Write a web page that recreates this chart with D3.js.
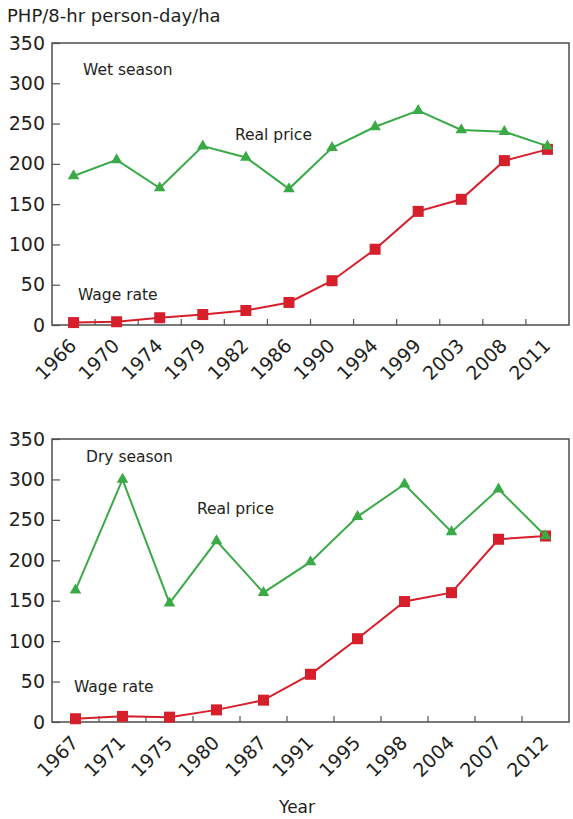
<!DOCTYPE html>
<html>
<head>
<meta charset="utf-8">
<script src="https://cdn.jsdelivr.net/npm/d3@7"></script>
<style>
  body { margin: 0; background: #fff; }
  svg { display: block; font-family: "DejaVu Sans", sans-serif; }
</style>
</head>
<body>
<div id="chart"></div>
<script>
// wet season (top panel)
const wetYears = ["1966", "1970", "1974", "1979", "1982", "1986", "1990", "1994", "1999", "2003", "2008", "2011"];
const wetPrice = [185, 205, 170, 222, 208, 169, 220, 246, 266, 242, 240, 222];
const wetWage = [3, 4, 9, 13, 18, 28, 55, 94, 141, 156, 204, 218];

// dry season (bottom panel)
const dryYears = ["1967", "1971", "1975", "1980", "1987", "1991", "1995", "1998", "2004", "2007", "2012"];
const dryPrice = [163, 300, 147, 224, 160, 198, 254, 294, 235, 288, 230];
const dryWage = [4, 7, 6, 15, 27, 59, 103, 149, 160, 226, 230];

const yTicks = [0, 50, 100, 150, 200, 250, 300, 350];

const width = 573, height = 819;
const green = "#3aaa47", red = "#d61f2b";

const svg = d3.select("#chart")
    .append("svg")
    .attr("width", width)
    .attr("height", height);

svg.append("text")
    .attr("x", 7)
    .attr("y", 22)
    .attr("font-size", 18)
    .attr("fill", "#231f20")
    .text("PHP/8-hr person-day/ha");

function panel(top, bottom, years, price, wage, labels) {
    const left = 52, right = 569;

    let x = d3.scaleBand()
        .domain(years)
        .range([left, right]);

    let y = d3.scaleLinear()
        .domain([0, 350])
        .range([bottom, top]);

    let g = svg.append("g");

    // y axis, ticks pointing inward
    let ya = g.append("g")
        .attr("transform", `translate(${left},0)`)
        .call(d3.axisLeft(y).tickValues(yTicks).tickSize(-8).tickPadding(7).tickSizeOuter(0));
    ya.select(".domain").remove();
    ya.selectAll("line").attr("stroke", "#555").attr("stroke-width", 1.2);
    ya.selectAll("text").attr("font-size", 19).attr("fill", "#231f20").attr("font-family", "DejaVu Sans");

    // x axis labels
    let xa = g.append("g")
        .attr("transform", `translate(0,${bottom})`)
        .call(d3.axisBottom(x).tickSize(0).tickSizeOuter(0));
    xa.select(".domain").remove();
    xa.selectAll("text")
        .attr("font-size", 19)
        .attr("font-family", "DejaVu Sans")
        .attr("fill", "#231f20")
        .attr("text-anchor", "end")
        .attr("x", 0).attr("y", 0).attr("dy", 0)
        .attr("transform", "translate(4,22) rotate(-45)");

    // inner ticks at band boundaries
    g.selectAll(".xtick")
        .data(years.slice(1))
        .join("line")
        .attr("x1", d => x(d)).attr("x2", d => x(d))
        .attr("y1", bottom).attr("y2", bottom - 6)
        .attr("stroke", "#555")
        .attr("stroke-width", 1.2);

    // frame
    g.append("rect")
        .attr("x", left).attr("y", top)
        .attr("width", right - left).attr("height", bottom - top)
        .attr("fill", "none")
        .attr("stroke", "#4d4d4d")
        .attr("stroke-width", 1.5);

    let cx = d => x(d) + x.bandwidth() / 2;

    let line = d3.line()
        .x(d => cx(d[0]))
        .y(d => y(d[1]));

    let wagePts = years.map((d, i) => [d, wage[i]]);
    let pricePts = years.map((d, i) => [d, price[i]]);

    g.append("path")
        .datum(wagePts)
        .attr("d", line)
        .attr("fill", "none")
        .attr("stroke", red)
        .attr("stroke-width", 2);

    g.selectAll(".sq")
        .data(wagePts)
        .join("rect")
        .attr("x", d => cx(d[0]) - 5.5)
        .attr("y", d => y(d[1]) - 5.5)
        .attr("width", 11).attr("height", 11)
        .attr("fill", red);

    g.append("path")
        .datum(pricePts)
        .attr("d", line)
        .attr("fill", "none")
        .attr("stroke", green)
        .attr("stroke-width", 2);

    let tri = d3.symbol().type(d3.symbolTriangle).size(58);
    g.selectAll(".tri")
        .data(pricePts)
        .join("path")
        .attr("d", tri)
        .attr("transform", d => `translate(${cx(d[0])},${y(d[1])})`)
        .attr("fill", green);

    for (let l of labels) {
        g.append("text")
            .attr("x", l.x)
            .attr("y", l.y)
            .attr("font-size", 15.5)
            .attr("fill", "#231f20")
            .text(l.text);
    }
}

panel(43, 325, wetYears, wetPrice, wetWage, [
    { text: "Wet season", x: 83, y: 75 },
    { text: "Real price", x: 235, y: 140 },
    { text: "Wage rate", x: 78, y: 300 }
]);

panel(439, 722, dryYears, dryPrice, dryWage, [
    { text: "Dry season", x: 86, y: 462 },
    { text: "Real price", x: 197, y: 514 },
    { text: "Wage rate", x: 74, y: 692 }
]);

svg.append("text")
    .attr("x", 297)
    .attr("y", 813)
    .attr("text-anchor", "middle")
    .attr("font-size", 17)
    .attr("fill", "#231f20")
    .text("Year");
</script>
</body>
</html>
